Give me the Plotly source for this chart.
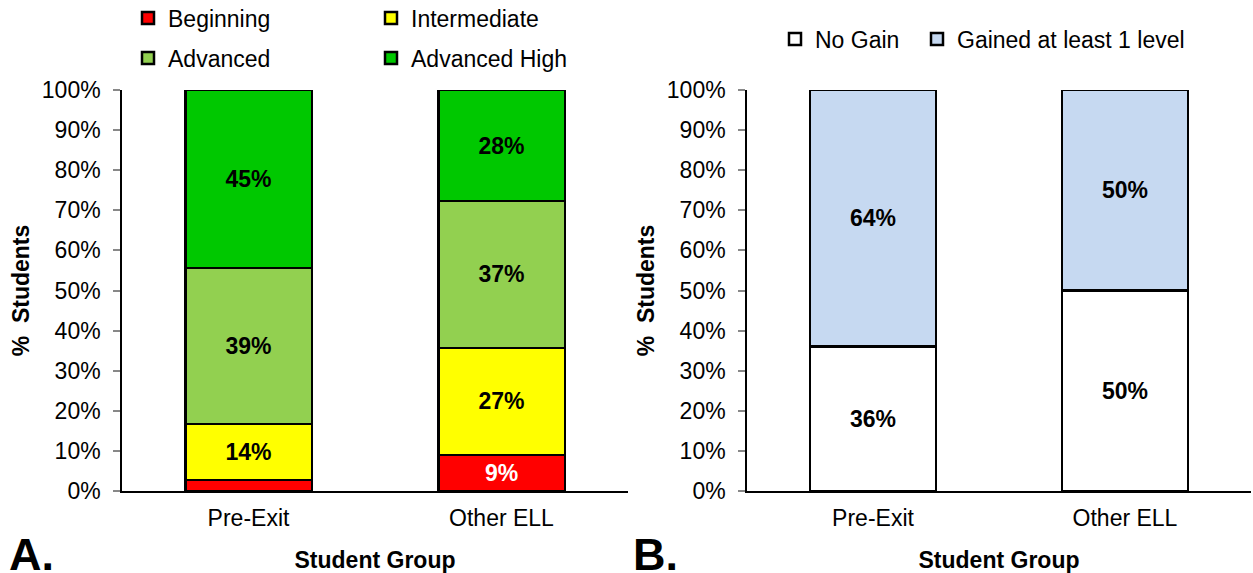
import plotly.graph_objects as go

groups = ["Pre-Exit", "Other ELL"]

# Panel A: proficiency levels (% of students)
levels = ["Beginning", "Intermediate", "Advanced", "Advanced High"]
beginning = [2.8, 9.0]
intermediate = [13.9, 26.7]
advanced = [38.9, 36.6]
advanced_high = [44.4, 27.7]
beginning_lbl = ["", "9%"]
intermediate_lbl = ["14%", "27%"]
advanced_lbl = ["39%", "37%"]
advanced_high_lbl = ["45%", "28%"]

# Panel B: gain
gain_names = ["No Gain", "Gained at least 1 level"]
no_gain = [36, 50]
gained = [64, 50]
no_gain_lbl = ["36%", "50%"]
gained_lbl = ["64%", "50%"]

FONT = "Liberation Sans, Arial, sans-serif"
FS = 23
W, H = 1253, 573

fig = go.Figure()

def add_bar(name, vals, lbls, color, xa, ya, legend, txtcolor="black"):
    fig.add_trace(go.Bar(
        name=name, x=groups, y=vals, text=lbls,
        textposition="inside", insidetextanchor="middle",
        textfont=dict(family=FONT, size=FS, color=txtcolor, weight="bold"),
        marker=dict(color=color, line=dict(color="black", width=2.5)),
        xaxis=xa, yaxis=ya, legend=legend, hoverinfo="skip",
    ))

add_bar(levels[0], beginning, beginning_lbl, "#FF0000", "x", "y", "legend", "white")
add_bar(levels[1], intermediate, intermediate_lbl, "#FFFF00", "x", "y", "legend")
add_bar(levels[2], advanced, advanced_lbl, "#92D050", "x", "y", "legend2")
add_bar(levels[3], advanced_high, advanced_high_lbl, "#00C800", "x", "y", "legend2")
add_bar(gain_names[0], no_gain, no_gain_lbl, "#FFFFFF", "x2", "y2", "legend3")
add_bar(gain_names[1], gained, gained_lbl, "#C6D9F1", "x2", "y2", "legend4")

def px_x(p):
    return p / W

def px_y(p):
    return 1 - p / H

ydom = [1 - 491 / H, 1 - 90 / H]

xcommon = dict(showline=True, linecolor="black", linewidth=1.5, ticks="",
               tickfont=dict(family=FONT, size=FS, color="black"),
               ticklabelstandoff=6, automargin=False, fixedrange=True,
               title=dict(text="<b>Student Group</b>", standoff=22,
                          font=dict(family=FONT, size=FS, color="black")))
ycommon = dict(range=[0, 100], dtick=10, ticksuffix="%", showline=True,
               linecolor="black", linewidth=1.5, ticks="outside", ticklen=7,
               tickcolor="#888888", tickwidth=1.5, showgrid=False, zeroline=False,
               tickfont=dict(family=FONT, size=FS, color="black"),
               ticklabelstandoff=8, automargin=False, fixedrange=True,
               title=dict(text="<b>%\u00a0 Students</b>", standoff=6,
                          font=dict(family=FONT, size=FS, color="black")))

legcommon = dict(orientation="h", xanchor="left", yanchor="middle",
                 font=dict(family=FONT, size=FS, color="black"),
                 bgcolor="rgba(0,0,0,0)", itemclick=False, itemdoubleclick=False,
                 traceorder="normal", entrywidthmode="pixels")

fig.update_layout(
    width=W, height=H,
    margin=dict(l=0, r=0, t=0, b=0, autoexpand=False),
    paper_bgcolor="white", plot_bgcolor="white",
    barmode="stack", bargap=0.5,
    font=dict(family=FONT, size=FS, color="black"),
    xaxis=dict(domain=[px_x(122), px_x(628)], anchor="y", **xcommon),
    yaxis=dict(domain=ydom, anchor="x", **ycommon),
    xaxis2=dict(domain=[px_x(747), px_x(1251)], anchor="y2", **xcommon),
    yaxis2=dict(domain=ydom, anchor="x2", **ycommon),
    legend=dict(x=px_x(128), y=px_y(18), entrywidth=198, **legcommon),
    legend2=dict(x=px_x(128), y=px_y(58), entrywidth=198, **legcommon),
    legend3=dict(x=px_x(775), y=px_y(39), **legcommon),
    legend4=dict(x=px_x(917), y=px_y(39), **legcommon),
    showlegend=True,
    annotations=[
        dict(text="<b>A.</b>", x=px_x(7), y=0, xref="paper", yref="paper",
             xanchor="left", yanchor="bottom", yshift=-9,
             showarrow=False,
             font=dict(family=FONT, size=45, color="black")),
        dict(text="<b>B.</b>", x=px_x(634), y=0, xref="paper", yref="paper",
             xanchor="left", yanchor="bottom", yshift=-9, xshift=-3,
             showarrow=False,
             font=dict(family=FONT, size=45, color="black")),
    ],
)

fig.write_html("out.html", config={"displayModeBar": False},
               post_script="document.body.style.margin='0';")
